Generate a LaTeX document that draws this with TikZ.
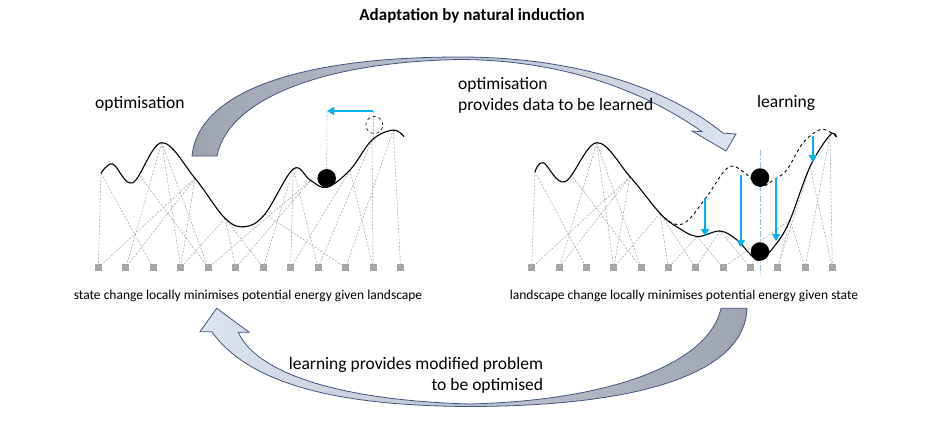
\documentclass[tikz,border=0pt]{standalone}
\usepackage{fontspec}
\setmainfont{Carlito}
\usetikzlibrary{arrows.meta}
\definecolor{cblue}{RGB}{0,176,240}
\definecolor{lblue}{RGB}{150,190,225}
\definecolor{netgray}{RGB}{165,165,165}
\definecolor{sqgray}{RGB}{166,166,166}
\definecolor{arrowline}{RGB}{65,85,130}
\definecolor{arrowdark}{RGB}{158,164,175}
\definecolor{arrowlight}{RGB}{220,228,240}
\begin{document}
\begin{tikzpicture}[x=1pt,y=-1pt,
  sq/.style={rectangle,fill=sqgray,minimum size=7pt,inner sep=0pt},
  net/.style={draw=netgray,dash pattern=on 2pt off 1.5pt,line width=0.55pt},
  land/.style={line width=1.1pt,black},
  ball/.style={circle,fill=black,minimum size=18.5pt,inner sep=0pt},
  barrow/.style={draw=cblue,line width=2.4pt,-{Triangle[length=7pt,width=8pt]}},
  guide/.style={draw=lblue,line width=0.6pt,dash pattern=on 2pt off 1.5pt},
  bigarrow/.style={draw=arrowline,line width=0.8pt},
  lbl/.style={font=\fontsize{17.5}{21}\selectfont,inner sep=0pt},
  slbl/.style={font=\fontsize{13.5}{16}\selectfont,inner sep=0pt}]
\useasboundingbox[fill=white] (0,0) rectangle (945,434);

% ---------- squares ----------
\foreach \i in {1,...,12}{
  \node[sq] (l\i) at ({98.3+27.48*(\i-1)},267.7) {};
  \node[sq] (r\i) at ({531.7+27.33*(\i-1)},267.7) {};
}

% ---------- left network ----------
\coordinate (LA) at (101,173.3);
\coordinate (LB) at (140,176);
\coordinate (LC) at (161.7,142.7);
\coordinate (LD) at (195,178.3);
\coordinate (LE) at (225,218.3);
\coordinate (LF) at (265,214);
\coordinate (LG) at (293.3,169);
\coordinate (LH) at (310,181);
\coordinate (LI) at (350,170);
\coordinate (LJ) at (372,140);
\coordinate (LK) at (393.3,130);
\foreach \a/\b in {LA/l1,LA/l3,LB/l5,LC/l2,LC/l4,LC/l5,LD/l1,LD/l2,LD/l4,
  LE/l4,LE/l6,LE/l7,LF/l10,LG/l7,LG/l8,LG/l9,LH/l5,LH/l6,LI/l8,LI/l11,
  LJ/l9,LJ/l11,LK/l10,LK/l12}
  \draw[net] (\a) -- (\b);

% ---------- right network ----------
\coordinate (RA) at (535,171.7);
\coordinate (RB) at (573,177);
\coordinate (RC) at (596.7,142.7);
\coordinate (RD) at (630,176.7);
\coordinate (RE) at (660,213.3);
\coordinate (RF) at (697,236.5);
\coordinate (RG) at (720,231);
\coordinate (RI) at (790,220);
\coordinate (RJ) at (810,166.7);
\coordinate (RK) at (830,135);
\foreach \a/\b in {RA/r1,RA/r3,RB/r5,RC/r2,RC/r4,RC/r5,RD/r1,RD/r2,RD/r4,
  RE/r4,RE/r6,RE/r7,RF/r8,RF/r6,RG/r7,RG/r9,RI/r8,RI/r10,RI/r11,
  RJ/r10,RJ/r12,RK/r11,RK/r12}
  \draw[net] (\a) -- (\b);

% ---------- guide lines ----------
\coordinate (las) at (373.3,111);
\coordinate (lae) at (327,111);
\coordinate (lcurve) at (373.3,140);
\node[ball] (lb) at (326.7,178.3) {};
\draw[guide] (lae) -- (lb.north);
\draw[guide] (las) -- (lcurve);
\coordinate (vtop) at (760,150);
\coordinate (vbot) at (760,274);
\draw[draw=lblue,line width=0.8pt,dash pattern=on 6pt off 2pt on 1.5pt off 2pt] (vtop) -- (vbot);

% ---------- landscapes ----------
\draw[land] plot[smooth,tension=0.6] coordinates {(101,173.3) (112.7,164) (132.7,182.7)
  (161.7,142.7) (195,178.3) (225,218.3) (245,226.7) (265,214) (293.3,169) (310,180)
  (326.7,187.3) (350,170) (372,140) (393.3,130) (404,136.7)};
\draw[land] plot[smooth,tension=0.6] coordinates {(535,171.7) (543.3,162.7) (565,181.7)
  (596.7,142.7) (630,176.7) (660,213.3) (676.7,226.7) (697,236.5) (720,231) (737,240)
  (750,254) (760,260) (776.7,243.3) (790,220) (810,166.7) (830,135) (836.7,137)};
\draw[line width=0.9pt,dashed] plot[smooth,tension=0.6] coordinates {(660,213.3) (673,223.5)
  (686.7,221.5) (706.7,196.7) (728.3,167.3) (745,173) (760,186.5) (772,181) (786.7,170)
  (803,143) (821.7,129.3) (836.7,137)};

% ---------- balls ----------
\node[circle,draw,dashed,line width=0.6pt,minimum size=17pt,inner sep=0pt] (ghost) at (374.3,125) {};
\node[ball] (rbu) at (760,177.5) {};
\node[ball] (rbl) at (760,251.5) {};

% ---------- blue arrows ----------
\draw[barrow] (las) -- (lae);
\coordinate (a1s) at (705,198); \coordinate (a1e) at (705,236);
\coordinate (a2s) at (740.7,175); \coordinate (a2e) at (740.7,247);
\coordinate (a3s) at (776,178); \coordinate (a3e) at (776,241);
\coordinate (a4s) at (812.7,136); \coordinate (a4e) at (812.7,162);
\draw[barrow] (a1s) -- (a1e);
\draw[barrow] (a2s) -- (a2e);
\draw[barrow] (a3s) -- (a3e);
\draw[barrow] (a4s) -- (a4e);

% ---------- big arrows ----------
\shadedraw[bigarrow,left color=arrowdark,right color=arrowlight]
  (192,156) .. controls (198,95) and (290,57) .. (460,57)
  .. controls (580,57) and (670,90) .. (723,133.1) -- (736,134) -- (726,151)
  -- (692,131) -- (702,131.7) .. controls (650,95) and (570,60) .. (460,59.5)
  .. controls (320,62) and (228,100) .. (217,156) -- cycle;
\shadedraw[bigarrow,left color=arrowlight,right color=arrowdark]
  (216.7,308.3) -- (249.3,332.3) -- (238.3,332.3) .. controls (255,370) and (330,400) .. (470,404)
  .. controls (620,400) and (710,360) .. (721,308.3) -- (747,308.3)
  .. controls (745,370) and (650,406) .. (470,406.5)
  .. controls (340,406) and (250,385) .. (211.7,331.7) -- (200,331.7) -- cycle;

% ---------- texts ----------
\node[lbl,font=\fontsize{17}{20}\selectfont\bfseries,anchor=base] (title) at (472,20) {Adaptation by natural induction};
\node[lbl,anchor=base west] (topt) at (95,108.5) {optimisation};
\node[lbl,anchor=base west] (tlearn) at (757,107) {learning};
\node[lbl,anchor=base west,align=left] (tdata) at (458,110.7) {optimisation\\provides data to be learned};
\node[lbl,anchor=base east,align=right] (tprob) at (543.3,390) {learning provides modified problem\\to be optimised};
\node[slbl,anchor=base] (tleft) at (248,299) {state change locally minimises potential energy given landscape};
\node[slbl,anchor=base] (tright) at (684,299) {landscape change locally minimises potential energy given state};
\end{tikzpicture}
\end{document}
